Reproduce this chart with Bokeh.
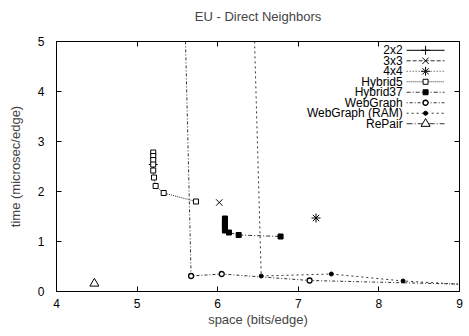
from bokeh.plotting import figure
from bokeh.models import LinearAxis, FixedTicker, Range1d, CustomLabelingPolicy
from bokeh.core.properties import value
from bokeh.embed import file_html
from bokeh.resources import INLINE

FONT = "Liberation Sans"

# ---- data (space bits/edge, time microsec/edge) ----
s2x2_x = [5.20]
s2x2_y = [2.54]
s3x3_x = [6.02]
s3x3_y = [1.78]
s4x4_x = [7.22]
s4x4_y = [1.47]
hyb5_x = [5.20, 5.20, 5.20, 5.20, 5.20, 5.21, 5.23, 5.33, 5.73]
hyb5_y = [2.78, 2.71, 2.63, 2.54, 2.42, 2.28, 2.11, 1.97, 1.80]
hyb37_x = [6.09, 6.09, 6.09, 6.09, 6.09, 6.09, 6.09, 6.09, 6.09, 6.14, 6.26, 6.78]
hyb37_y = [1.46, 1.43, 1.40, 1.37, 1.34, 1.31, 1.28, 1.25, 1.22, 1.18, 1.13, 1.10]
wg_x = [5.52, 5.67, 6.05, 7.14, 9.70]
wg_y = [10.5, 0.31, 0.35, 0.22, 0.12]
wgram_x = [6.36, 6.54, 7.41, 8.30, 9.70]
wgram_y = [10.5, 0.31, 0.35, 0.21, 0.08]
repair_x = [4.47]
repair_y = [0.16]

series_names = ["2x2", "3x3", "4x4", "Hybrid5", "Hybrid37", "WebGraph", "WebGraph (RAM)", "RePair"]
x_ticks = [4, 5, 6, 7, 8, 9]
y_ticks = [0, 1, 2, 3, 4, 5]

p = figure(width=469, height=336, x_range=Range1d(4, 9), y_range=Range1d(0, 5),
           output_backend="svg", toolbar_location=None,
           title="EU - Direct Neighbors",
           min_border_left=56, min_border_right=9, min_border_top=36, min_border_bottom=45)
p.title.align = "center"
p.title.text_font = FONT
p.title.text_font_size = "13px"
p.title.text_font_style = "normal"
p.title.standoff = 12

p.xgrid.visible = False
p.ygrid.visible = False
p.outline_line_color = "black"
p.outline_line_alpha = 1.0

no_labels = CustomLabelingPolicy(code="""
try { for (const i of Array.from(indices)) { indices.unset(i) } } catch (e) {}
return indices
""")

def style_axis(ax, ticks, show_labels=True):
    ax.ticker = FixedTicker(ticks=ticks)
    ax.major_tick_in = 5
    ax.major_tick_out = 0
    ax.minor_tick_line_color = None
    ax.axis_line_color = None
    ax.major_tick_line_color = "black"
    ax.major_label_text_font = FONT
    ax.major_label_text_font_size = "12px"
    ax.major_label_text_color = "black"
    ax.axis_label_text_font = FONT
    ax.axis_label_text_font_size = "13px"
    ax.axis_label_text_font_style = "normal"
    if not show_labels:
        ax.major_label_policy = no_labels
        ax.major_label_standoff = 0

style_axis(p.xaxis[0], x_ticks)
style_axis(p.yaxis[0], y_ticks)
p.xaxis.axis_label = "space (bits/edge)"
p.yaxis.axis_label = "time (microsec/edge)"
p.xaxis.major_label_standoff = 7
p.xaxis.axis_label_standoff = 1
p.yaxis.major_label_standoff = 12
p.yaxis.axis_label_standoff = 12

ra = LinearAxis()
style_axis(ra, y_ticks, False)
p.add_layout(ra, "right")
ta = LinearAxis()
style_axis(ta, x_ticks, False)
p.add_layout(ta, "above")

LC = "#333333"
# lines
p.line(hyb5_x, hyb5_y, line_color=LC, line_width=1, line_dash="1 1")
p.line(hyb37_x, hyb37_y, line_color=LC, line_width=1, line_dash="4 2 1 2")
p.line(wg_x, wg_y, line_color=LC, line_width=1, line_dash="1 2 3 2")
p.line(wgram_x, wgram_y, line_color=LC, line_width=1, line_dash="2 3")

# markers
p.scatter(s2x2_x, s2x2_y, marker="cross", size=9, line_color="black", line_width=1)
p.scatter(s3x3_x, s3x3_y, marker="x", size=9, line_color="black", line_width=1)
p.scatter(s4x4_x, s4x4_y, marker="asterisk", size=9, line_color="black", line_width=1)
p.scatter(hyb5_x, hyb5_y, marker="square", size=5, line_color="black", fill_color="white", line_width=1)
p.scatter(hyb37_x, hyb37_y, marker="square", size=5, line_color="black", fill_color="black")
p.scatter(wg_x, wg_y, marker="circle", size=5, line_color="black", fill_color="white", line_width=1.3)
p.scatter(wgram_x, wgram_y, marker="circle", size=4, line_color="black", fill_color="black")
p.scatter(repair_x, repair_y, marker="triangle", size=9, line_color="black", fill_color="white", line_width=1)

# ---- legend (gnuplot style: label right-aligned, sample on the right) ----
leg_label_x = 8.295
leg_x0, leg_x1 = 8.344, 8.814
leg_mid = 8.579
leg_top = 4.824
leg_step = 0.2098
leg_styles = [
    ("solid", dict(marker="cross", size=9, fill_color="black")),
    ("4 2", dict(marker="x", size=9, fill_color="black")),
    ("1 2", dict(marker="asterisk", size=9, fill_color="black")),
    ("1 1", dict(marker="square", size=5, fill_color="white")),
    ("4 2 1 2", dict(marker="square", size=5, fill_color="black")),
    ("1 2 3 2", dict(marker="circle", size=5, fill_color="white", line_width=1.3)),
    ("2 3", dict(marker="circle", size=4, fill_color="black")),
    ("6 2 1 2", dict(marker="triangle", size=9, fill_color="white")),
]
for i, (name, (dash, mk)) in enumerate(zip(series_names, leg_styles)):
    yy = leg_top - i * leg_step
    p.text(x=[leg_label_x], y=[yy], text=[name], text_align="right", text_baseline="middle",
           text_font=value(FONT), text_font_size="12px", text_color="black")
    p.line([leg_x0, leg_x1], [yy, yy], line_color=LC if dash != "solid" else "black",
           line_width=1, line_dash=dash)
    kw = dict(mk)
    lw = kw.pop("line_width", 1)
    p.scatter([leg_mid], [yy], line_color="black", line_width=lw, **kw)

open("out.html", "w").write(file_html(p, INLINE))
